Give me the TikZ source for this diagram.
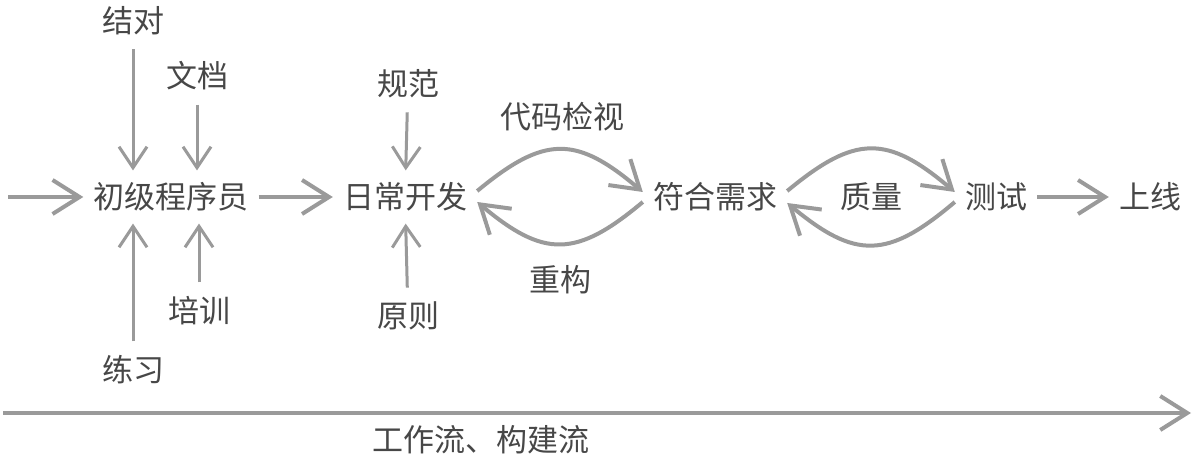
\documentclass[tikz,border=0pt]{standalone}
\usepackage{fontspec}
\usepackage{xcolor}
\usepackage{tikz}
\usetikzlibrary{arrows.meta}
\newfontfamily\cjk{Noto Sans CJK SC}
\definecolor{wfgray}{HTML}{9A9A9A}
\definecolor{wfink}{HTML}{474747}

\begin{document}
\begin{tikzpicture}[x=1pt,y=1pt,
  every node/.style={text=wfink,font=\cjk\fontsize{31}{36}\selectfont,inner sep=0pt},
  mainbox/.style={inner xsep=10pt,inner ysep=12pt},
  sidelbl/.style={inner ysep=14pt},
  flowarr/.style={draw=wfgray,line width=4pt,-{Straight Barb[length=27pt,width=34pt]}},
  feedarr/.style={draw=wfgray,line width=3pt,-{Straight Barb[length=21pt,width=28pt]}},
  loopup/.style={bend left=40,looseness=1.35}]
\useasboundingbox (0,0) rectangle (1201,465);
\node[mainbox] (junior) at (171,268) {初级程序员};
\node[mainbox] (dev) at (405,268) {日常开发};
\node[mainbox] (req) at (715,268) {符合需求};
\node[mainbox] (test) at (996,268) {测试};
\node[mainbox] (online) at (1150,268) {上线};
\node[sidelbl] (pair) at (133,444) {结对};
\node[sidelbl] (docs) at (197,389) {文档};
\node[sidelbl] (drill) at (133,95) {练习};
\node[sidelbl] (train) at (199,154) {培训};
\node[sidelbl] (norm) at (408,381) {规范};
\node[sidelbl] (rule) at (408,149) {原则};
\node (review) at (562,348) {代码检视};
\node (refactor) at (560,185) {重构};
\node (quality) at (871,268) {质量};
\node (flowtxt) at (481,25) {工作流、构建流};
\coordinate (entry) at (8,268);
\coordinate (flowa) at (3,52);
\coordinate (flowb) at (1191,52);
\draw[flowarr] (entry) -- (junior);
\draw[flowarr] (junior) -- (dev);
\draw[flowarr] (test) -- (online);
\draw[flowarr] ([yshift=6pt]dev.east) to[loopup] ([yshift=5pt]req.west);
\draw[flowarr] ([yshift=-5pt]req.west) to[loopup] ([yshift=-5pt]dev.east);
\draw[flowarr] ([yshift=6pt]req.east) to[loopup] ([yshift=5pt]test.west);
\draw[flowarr] ([yshift=-5pt]test.west) to[loopup] ([yshift=-6pt]req.east);
\draw[feedarr] (pair) -- (pair |- junior.north);
\draw[feedarr] (docs) -- (docs |- junior.north);
\draw[feedarr] (drill) -- (drill |- junior.south);
\draw[feedarr] (train) -- (train |- junior.south);
\draw[feedarr] (norm) -- (dev);
\draw[feedarr] (rule) -- (dev);
\draw[flowarr] (flowa) -- (flowb);
\end{tikzpicture}
\end{document}
